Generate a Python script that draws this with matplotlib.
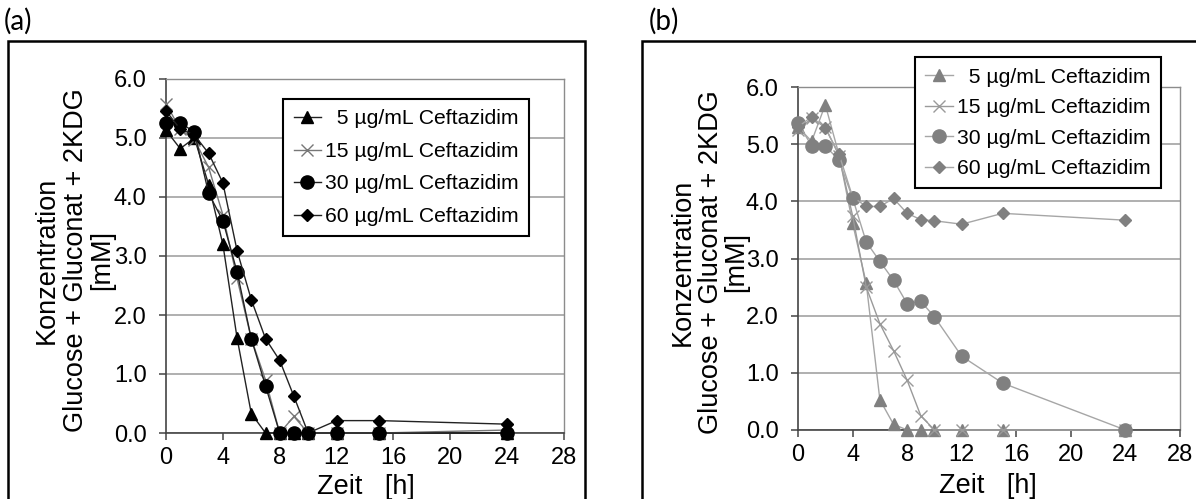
import matplotlib as mpl
mpl.use('Agg')
import matplotlib.pyplot as plt
from matplotlib.lines import Line2D
from matplotlib.patches import Rectangle

plt.rcParams['font.family'] = ['Liberation Sans', 'DejaVu Sans']

# sampling times [h]
zeit = [0, 1, 2, 3, 4, 5, 6, 7, 8, 9, 10, 12, 15, 24]

labels = ['  5 µg/mL Ceftazidim', '15 µg/mL Ceftazidim',
          '30 µg/mL Ceftazidim', '60 µg/mL Ceftazidim']

ylab_lines = ['Konzentration', 'Glucose + Gluconat + 2KDG', '[mM]']

# panel (a): Glucose + Gluconat + 2KDG [mM]
a_5 = [5.13, 4.82, 5.0, 4.21, 3.2, 1.61, 0.33, 0.0, 0.0, 0.0, 0.0, 0.0, 0.0, 0.0]
a_15 = [5.58, 5.15, 4.97, 4.5, 3.7, 2.62, 1.6, 0.9, 0.0, 0.28, 0.0, 0.0, 0.0, 0.05]
a_30 = [5.26, 5.26, 5.1, 4.06, 3.6, 2.73, 1.6, 0.8, 0.0, 0.0, 0.0, 0.0, 0.0, 0.0]
a_60 = [5.46, 5.15, 5.05, 4.74, 4.24, 3.09, 2.26, 1.6, 1.23, 0.62, 0.0, 0.21, 0.21, 0.15]

# panel (b)
b_5 = [5.3, 5.05, 5.69, 4.82, 3.62, 2.57, 0.53, 0.1, 0.0, 0.0, 0.0, 0.0, 0.0, 0.0]
b_15 = [5.25, 5.45, 5.3, 4.8, 3.75, 2.5, 1.86, 1.39, 0.87, 0.25, 0.0, 0.0, 0.0, 0.0]
b_30 = [5.37, 4.97, 4.97, 4.72, 4.06, 3.29, 2.95, 2.62, 2.21, 2.25, 1.98, 1.29, 0.82, 0.0]
b_60 = [5.3, 5.48, 5.28, 4.83, 4.08, 3.91, 3.91, 4.05, 3.79, 3.68, 3.66, 3.6, 3.79, 3.67]

W, H = 1196, 499


def box(x0, y0, x1, y1):
    # pixel box (top-left origin) -> figure fractions
    return [x0 / W, 1 - y1 / H, (x1 - x0) / W, (y1 - y0) / H]


def styleAxis(ax):
    ax.set_xlim(0, 28)
    ax.set_ylim(0, 6)
    ax.set_xticks(range(0, 29, 4))
    ax.set_yticks([0, 1, 2, 3, 4, 5, 6])
    ax.set_yticklabels(['%.1f' % v for v in range(7)])
    ax.yaxis.grid(True, color='#9a9a9a', lw=1.1)
    ax.set_axisbelow(True)
    for s in ['top', 'right']:
        ax.spines[s].set_color('#8c8c8c')
        ax.spines[s].set_linewidth(1.0)
    for s in ['left', 'bottom']:
        ax.spines[s].set_color('#444444')
        ax.spines[s].set_linewidth(1.2)
    ax.tick_params(direction='out', length=5, width=1.1, color='#444444',
                   labelsize=17)
    ax.tick_params(axis='y', pad=9)
    ax.tick_params(axis='x', pad=5)


def plotPanel(ax, series, mcolor, lcolor, xcolor):
    styles = [('^', 8.5, mcolor), ('x', 9, xcolor), ('o', 9.5, mcolor), ('D', 6.5, mcolor)]
    handles = []
    for ys, (m, ms, c) in zip(series, styles):
        lc = xcolor if m == 'x' else lcolor
        ax.plot(zeit, ys, color=lc, lw=1.0, marker=m, ms=ms, mfc=c, mec=c,
                mew=1.0, clip_on=False, zorder=3)
        handles.append(Line2D([], [], color=lc, lw=1.0, marker=m, ms=ms,
                              mfc=c, mec=c, mew=1.0))
    return handles


def addLegend(ax, handles, anchor, spacing):
    leg = ax.legend(handles, labels, loc='upper left', bbox_to_anchor=anchor,
                    borderaxespad=0, fontsize=15.2, frameon=True, fancybox=False,
                    handlelength=1.3, handletextpad=0.2, labelspacing=spacing,
                    borderpad=0.5, framealpha=1)
    leg.get_frame().set_edgecolor('black')
    leg.get_frame().set_linewidth(1.5)


def yLabel(xs, yc):
    # three centred, rotated lines of the y axis title
    for x, txt in zip(xs, ylab_lines):
        fig.text(x / W, 1 - yc / H, txt, rotation=90, ha='center', va='center',
                 fontsize=19.5)


fig = plt.figure(figsize=(W / 100, H / 100), dpi=100)

# outer frames of the two panels
fig.add_artist(Rectangle((8 / W, -0.1), (585 - 8) / W, 1.1 - 41 / H,
                         transform=fig.transFigure, fill=False, ec='black', lw=1.8))
fig.add_artist(Rectangle((642 / W, -0.1), 0.6, 1.1 - 41 / H,
                         transform=fig.transFigure, fill=False, ec='black', lw=1.8))
fig.text(4 / W, 1 - 21 / H, '(a)', fontsize=20, family=['Lato', 'DejaVu Sans'],
         va='center', ha='left')
fig.text(649 / W, 1 - 21 / H, '(b)', fontsize=20, family=['Lato', 'DejaVu Sans'],
         va='center', ha='left')

# panel (a)
axA = fig.add_axes(box(166, 79, 564, 433))
styleAxis(axA)
hA = plotPanel(axA, [a_5, a_15, a_30, a_60], 'black', '#222222', '#777777')
addLegend(axA, hA, (0.294, 0.944), 0.64)
yLabel([47, 76, 102], 260)
fig.text(366 / W, 1 - 487 / H, 'Zeit   [h]', ha='center', va='center', fontsize=19.5)

# panel (b)
axB = fig.add_axes(box(798, 87, 1180, 430))
styleAxis(axB)
hB = plotPanel(axB, [b_5, b_15, b_30, b_60], '#808080', '#a6a6a6', '#9a9a9a')
addLegend(axB, hB, (0.306, 1.087), 0.54)
yLabel([683, 711, 736], 262)
fig.text(988 / W, 1 - 486 / H, 'Zeit   [h]', ha='center', va='center', fontsize=19.5)

fig.savefig('out.png', dpi=100)
